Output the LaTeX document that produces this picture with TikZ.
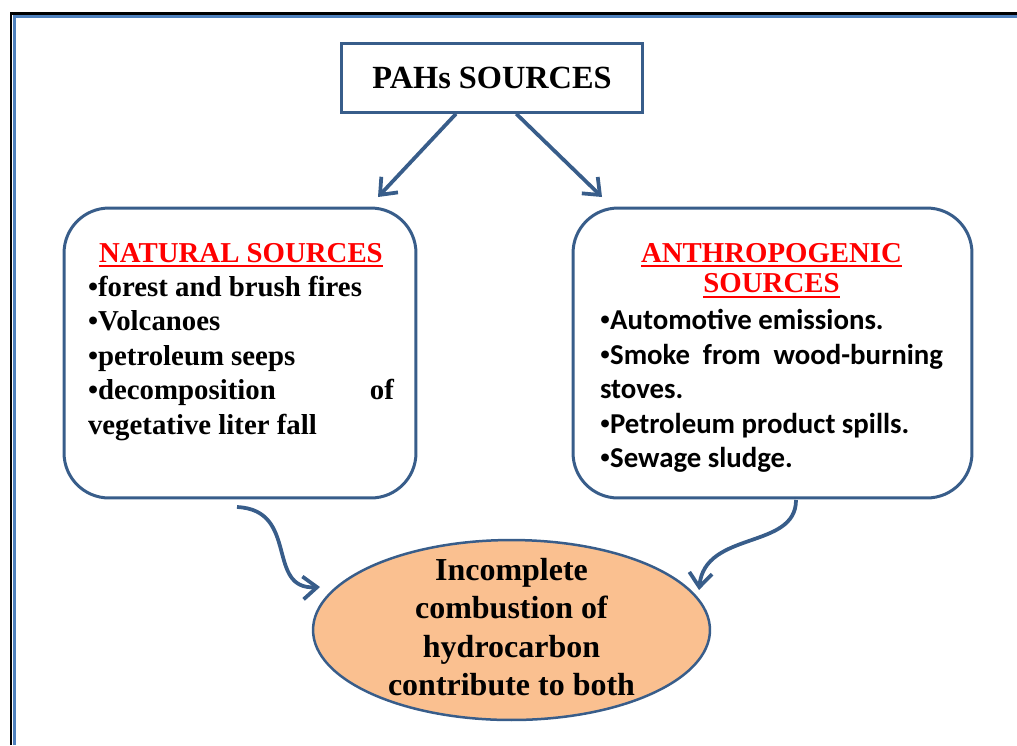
\documentclass[tikz,border=0pt]{standalone}
\usepackage{fontspec}
\setmainfont{Liberation Serif}
\newfontfamily\calfont{Carlito}
\usepackage{tikz}
\usetikzlibrary{shapes.geometric}
\usetikzlibrary{positioning}
\usetikzlibrary{arrows.meta}
\definecolor{pahblue}{HTML}{385D8A}
\definecolor{frameblue}{HTML}{4F81BD}
\definecolor{combfill}{HTML}{FAC090}
\newcommand{\srctitle}[1]{\leavevmode\begingroup\color{red}\setbox0=\hbox{#1}\rlap{\rule[-2.9pt]{\wd0}{1.1pt}}\box0\endgroup}
\newcommand{\srcsetup}{\setlength{\parindent}{0pt}\setlength{\parskip}{0pt}\hyphenpenalty=10000 \exhyphenpenalty=10000 \tolerance=10000 }
\newcommand{\dotb}{{\rmfamily•}}
\tikzset{srcbox/.style={draw=pahblue,line width=0.06cm,rounded corners=0.9cm,minimum height=5.8cm},
srctext/.style={anchor=base,align=justify,inner sep=0pt,font={\bfseries\fontsize{16.4}{19.6}\selectfont}},
flow/.style={draw=pahblue,line width=0.075cm,-{Straight Barb[length=8pt,width=13pt]}}}

\begin{document}
\begin{tikzpicture}[x=0.02cm,y=-0.02cm]
\useasboundingbox (0,0) rectangle (1017,745);
\draw [line width=0.05cm] (11,745) -- (11,13.3) -- (1017,13.3);
\draw [frameblue, line width=0.06cm] (14.2,745) -- (14.2,16) -- (1017,16);
\node (top) [draw=pahblue, line width=0.06cm, minimum width=6.01cm, minimum height=1.38cm, font=\bfseries\fontsize{18.4}{22}\selectfont] at (492,77.8) {PAHs SOURCES};
\node (nat) [srcbox, minimum width=7.04cm] at (240,353) {};
\node (anth) [srcbox, minimum width=7.98cm] at (772.5,353) {};
\node (nattxt) [srctext, text width=6.12cm] at (241,262) {\srcsetup{\centering\srctitle{NATURAL SOURCES}\par}•forest and brush fires\par •Volcanoes\par •petroleum seeps\par •decomposition of vegetative liter fall\par};
\node (anthtxt) [srctext, text width=6.86cm] at (771.5,262) {\srcsetup{\centering\fontsize{16.4}{17.6}\selectfont\srctitle{ANTHROPOGENIC}\\\srctitle{SOURCES}\par}\vspace*{1.4pt}{\calfont \dotb Automotive emissions.\par \dotb Smoke from wood-burning stoves.\par \dotb Petroleum product spills.\par \dotb Sewage sludge.\par}};
\node (comb) [ellipse, draw=pahblue, line width=0.05cm, fill=combfill, minimum width=7.94cm, minimum height=3.6cm, inner sep=0pt] at (511.5,630) {};
\node (combtxt) [align=center, font=\bfseries\fontsize{18.2}{21.8}\selectfont] at (511.5,627) {Incomplete\\combustion of\\hydrocarbon\\contribute to both};
\coordinate (natin) at (378,197);
\coordinate (anthin) at (602,197);
\coordinate (natout) at (237,507);
\coordinate (anthout) at (796,500);
\coordinate (combl) at (320,587);
\coordinate (combr) at (699,590);
\draw [flow] (top.225) -- (natin);
\draw [flow] (top.-56) -- (anthin);
\draw [flow] (natout) .. controls (300,510) and (265,590) .. (combl);
\draw [flow] (anthout) .. controls (796,550) and (705,530) .. (combr);
\end{tikzpicture}
\end{document}
